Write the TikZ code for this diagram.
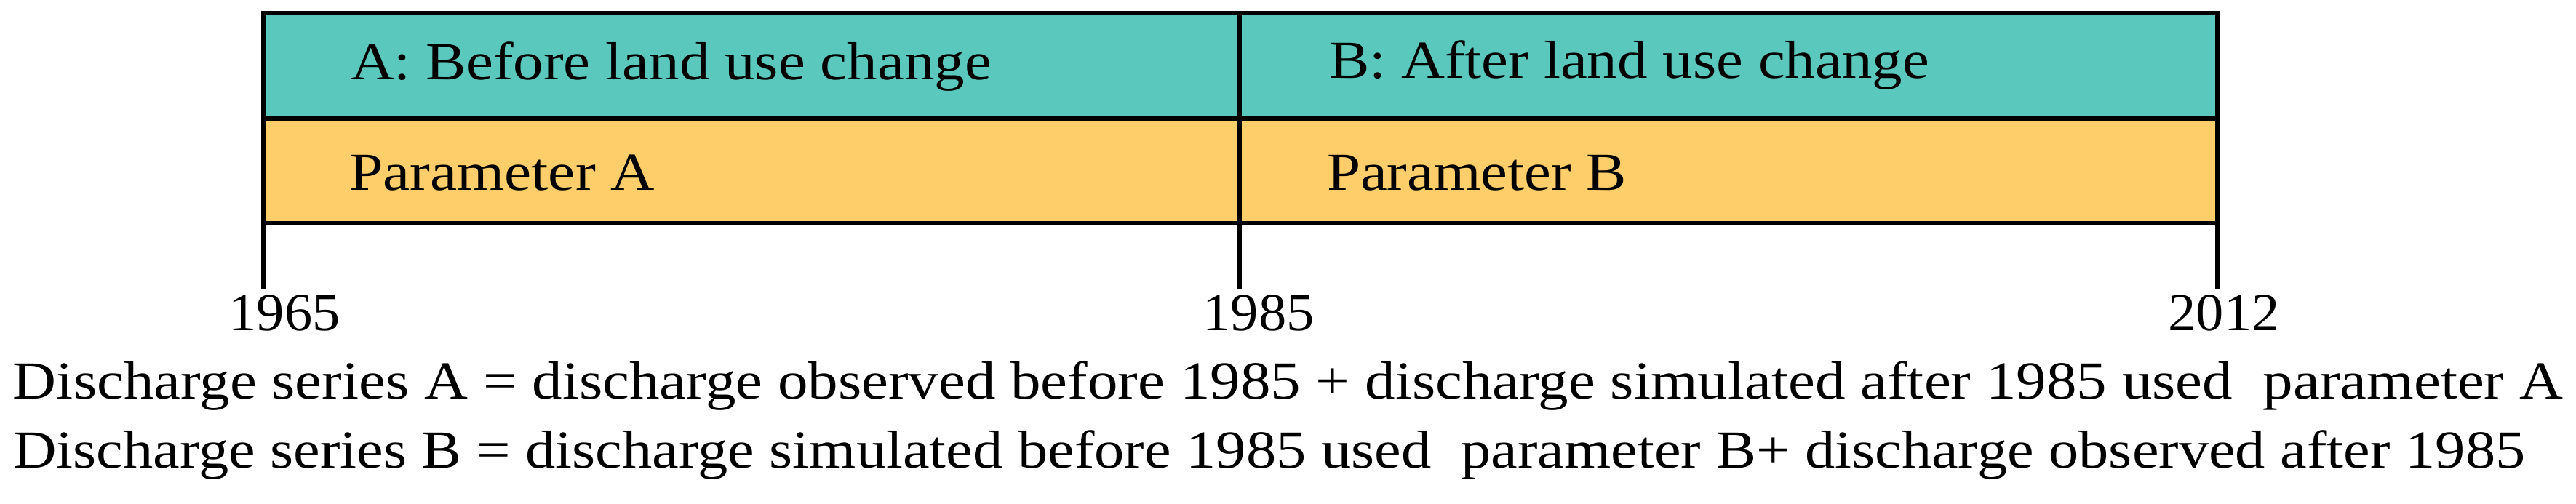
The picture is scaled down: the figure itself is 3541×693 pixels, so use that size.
\documentclass[tikz,border=0pt]{standalone}
\usepackage{fontspec}
\setmainfont{Liberation Serif}
\usepackage{graphicx}
\definecolor{tealfill}{HTML}{5BC8BE}
\definecolor{amberfill}{HTML}{FECE6A}
\newcommand\fitw[2]{\resizebox{#1}{\height}{#2}}
\tikzset{
  cell/.style={draw=black, line width=1.6pt, rectangle, inner sep=0pt, outer sep=0pt, anchor=north west},
  topcell/.style={cell, fill=tealfill, minimum height=36.25pt},
  botcell/.style={cell, fill=amberfill, minimum height=36pt},
  lbl/.style={anchor=base west, inner sep=0pt, outer sep=0pt, font=\fontsize{18.4pt}{22pt}\selectfont},
  yr/.style={lbl, anchor=base},
  tickline/.style={line width=1.6pt},
}
\begin{document}
\begin{tikzpicture}[x=0.25pt,y=-0.25pt]
\useasboundingbox (0,0) rectangle (3541,693);
% cells
\node[topcell, minimum width=335.5pt] (ta) at (362,18) {};
\node[topcell, minimum width=336pt] (tb) at (1704,18) {};
\node[botcell, minimum width=335.5pt] (pa) at (362,163) {};
\node[botcell, minimum width=336pt] (pb) at (1704,163) {};
% ticks
\coordinate (t1) at (362,398);
\coordinate (t2) at (1704,398);
\coordinate (t3) at (3048,398);
\draw[tickline] (pa.south west) -- (t1);
\draw[tickline] (pb.south west) -- (t2);
\draw[tickline] (pb.south east) -- (t3);
% labels in cells
\node[lbl] (la) at (482,110) {\fitw{220.25pt}{A: Before land use change}};
\node[lbl] (lb) at (1827,108) {\fitw{206.25pt}{B: After land use change}};
\node[lbl] (lpa) at (480,262) {\fitw{105pt}{Parameter A}};
\node[lbl] (lpb) at (1824,262) {\fitw{103pt}{Parameter B}};
% years
\node[yr] (y1) at (391,455) {\fitw{38.25pt}{1965}};
\node[yr] (y2) at (1730,455) {\fitw{38.25pt}{1985}};
\node[yr] (y3) at (3057,455) {\fitw{38.25pt}{2012}};
% bottom lines
\node[lbl] (s1) at (18,549) {\fitw{876.25pt}{Discharge series A = discharge observed before 1985 + discharge simulated after 1985 used\ \ parameter A}};
\node[lbl] (s2) at (18,644) {\fitw{863.25pt}{Discharge series B = discharge simulated before 1985 used\ \ parameter B+ discharge observed after 1985}};
\end{tikzpicture}
\end{document}
